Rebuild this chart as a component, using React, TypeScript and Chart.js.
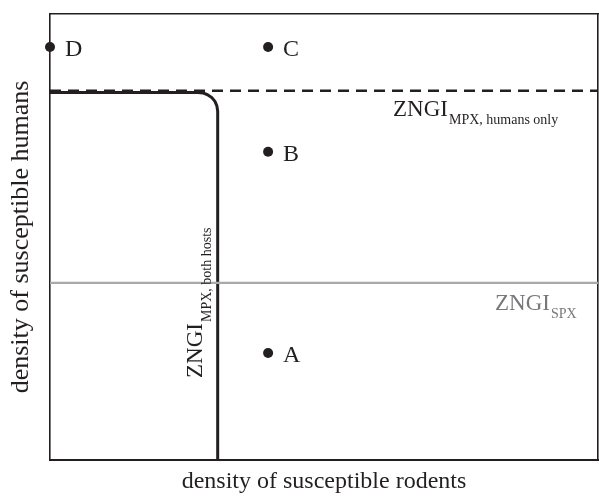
import { useEffect, useRef } from 'react';
import { Chart, registerables } from 'chart.js';

Chart.register(...registerables);

// Axis titles
const X_TITLE = 'density of susceptible rodents';
const Y_TITLE = 'density of susceptible humans';

// Community points (A-D)
const POINT_NAMES = ['A', 'B', 'C', 'D'];
const POINT_X = [39.8, 39.8, 39.8, 0];
const POINT_Y = [24.0, 69.1, 92.6, 92.6];

// ZNGI for MPX, humans only (dashed)
const HUMANS_ONLY_X = [0, 100];
const HUMANS_ONLY_Y = [82.8, 82.8];

// ZNGI for SPX (grey)
const SPX_X = [0, 100];
const SPX_Y = [39.7, 39.7];

// ZNGI for MPX, both hosts (rounded corner)
const BOTH_X = [0, 27.0, 27.9, 28.75, 29.5, 30.1, 30.45, 30.6, 30.6];
const BOTH_Y = [82.4, 82.4, 82.3, 81.9, 81.3, 80.4, 79.4, 78.2, 0];

// Curve labels
const LABEL_MAIN = ['ZNGI', 'ZNGI', 'ZNGI'];
const LABEL_SUB = ['MPX, humans only', 'SPX', 'MPX, both hosts'];
const LABEL_X = [62.6, 81.2, 27.7];
const LABEL_Y = [77.1, 33.6, 18.4];
const LABEL_ROT = [0, 0, -90];
const LABEL_COLOR = ['#231f20', '#77787b', '#231f20'];

const INK = '#231f20';
const GREY = '#a7a9ac';
const SERIF = '"Liberation Serif", "DejaVu Serif", serif';

const toXY = (xs: number[], ys: number[]) => xs.map((x, i) => ({ x, y: ys[i] }));

const labelPlugin = {
  id: 'labelPlugin',
  afterDatasetsDraw(chart: any) {
    const { ctx, scales } = chart;
    const xs = scales.x;
    const ys = scales.y;
    ctx.save();
    // point names
    ctx.fillStyle = INK;
    ctx.font = `24px ${SERIF}`;
    ctx.textAlign = 'left';
    ctx.textBaseline = 'alphabetic';
    POINT_NAMES.forEach((n, i) => {
      const px = xs.getPixelForValue(POINT_X[i]);
      const py = ys.getPixelForValue(POINT_Y[i]);
      ctx.fillText(n, px + 15, py + 9);
    });
    // ZNGI labels with subscripts
    LABEL_MAIN.forEach((m, i) => {
      const px = xs.getPixelForValue(LABEL_X[i]);
      const py = ys.getPixelForValue(LABEL_Y[i]);
      ctx.save();
      ctx.translate(px, py);
      ctx.rotate((LABEL_ROT[i] * Math.PI) / 180);
      ctx.fillStyle = LABEL_COLOR[i];
      ctx.font = `23px ${SERIF}`;
      ctx.fillText(m, 0, 0);
      const w = ctx.measureText(m).width;
      ctx.font = `14px ${SERIF}`;
      ctx.fillText(LABEL_SUB[i], w + 1, i === 2 ? 9 : 8);
      ctx.restore();
    });
    ctx.restore();
  },
};

export default function App() {
  const ref = useRef<HTMLCanvasElement | null>(null);

  useEffect(() => {
    const canvas = ref.current;
    if (!canvas) return;
    const chart = new Chart(canvas, {
      type: 'scatter',
      data: {
        datasets: [
          {
            type: 'line',
            label: 'ZNGI SPX',
            data: toXY(SPX_X, SPX_Y),
            borderColor: GREY,
            borderWidth: 2.2,
            pointRadius: 0,
            tension: 0,
            xAxisID: 'x',
            yAxisID: 'y',
          },
          {
            type: 'line',
            label: 'ZNGI MPX, humans only',
            data: toXY(HUMANS_ONLY_X, HUMANS_ONLY_Y),
            borderColor: INK,
            borderWidth: 2.6,
            borderDash: [11, 7],
            pointRadius: 0,
            tension: 0,
            xAxisID: 'x',
            yAxisID: 'y',
          },
          {
            type: 'line',
            label: 'ZNGI MPX, both hosts',
            data: toXY(BOTH_X, BOTH_Y),
            borderColor: INK,
            borderWidth: 3,
            pointRadius: 0,
            tension: 0,
            borderJoinStyle: 'round',
            xAxisID: 'x',
            yAxisID: 'y',
          },
          {
            type: 'scatter',
            label: 'communities',
            data: toXY(POINT_X, POINT_Y),
            backgroundColor: INK,
            borderColor: INK,
            pointRadius: 5,
            borderWidth: 0,
            clip: false,
            xAxisID: 'x',
            yAxisID: 'y',
          },
        ] as any,
      },
      options: {
        responsive: false,
        animation: false,
        layout: { padding: 0, autoPadding: false },
        plugins: {
          legend: { display: false },
          tooltip: { enabled: false },
        },
        scales: {
          x: {
            type: 'linear',
            position: 'bottom',
            min: 0,
            max: 100,
            grid: { display: false, drawTicks: false },
            border: { display: true, color: INK, width: 2 },
            ticks: { display: false },
            title: {
              display: true,
              text: X_TITLE,
              color: INK,
              font: { family: SERIF, size: 24 },
              padding: { top: 0, bottom: 8 },
            },
            afterFit: (s: any) => {
              s.height = 44;
            },
          },
          x2: {
            type: 'linear',
            position: 'top',
            min: 0,
            max: 100,
            grid: { display: false, drawTicks: false },
            border: { display: true, color: INK, width: 1.6 },
            ticks: { display: false },
            afterFit: (s: any) => {
              s.height = 14;
            },
          },
          y: {
            type: 'linear',
            position: 'left',
            min: 0,
            max: 100,
            grid: { display: false, drawTicks: false },
            border: { display: true, color: INK, width: 1.6 },
            ticks: { display: false },
            title: {
              display: true,
              text: Y_TITLE,
              color: INK,
              font: { family: SERIF, size: 26 },
              padding: { top: 6, bottom: 0 },
            },
            afterFit: (s: any) => {
              s.width = 50;
            },
          },
          y2: {
            type: 'linear',
            position: 'right',
            min: 0,
            max: 100,
            grid: { display: false, drawTicks: false },
            border: { display: true, color: INK, width: 1.6 },
            ticks: { display: false },
            afterFit: (s: any) => {
              s.width = 1;
            },
          },
        } as any,
      },
      plugins: [labelPlugin],
    });
    return () => chart.destroy();
  }, []);

  return (
    <div style={{ position: 'fixed', left: 0, top: 0, width: 599, height: 504, background: '#fff' }}>
      <canvas ref={ref} width={599} height={504} style={{ display: 'block', width: 599, height: 504 }} />
    </div>
  );
}
